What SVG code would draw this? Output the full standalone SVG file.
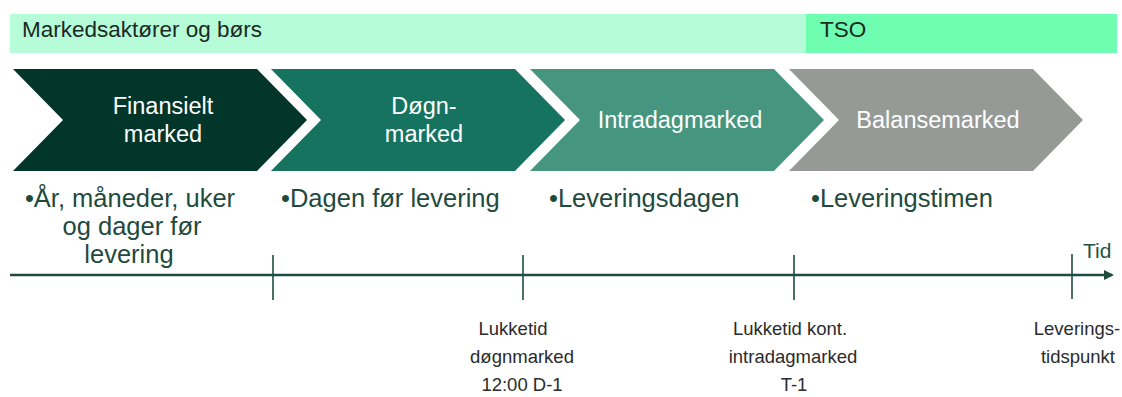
<svg xmlns="http://www.w3.org/2000/svg" width="1122" height="397" viewBox="0 0 1122 397">
<defs>
<style>
.band{font-family:"Liberation Sans",Arial,sans-serif;font-size:22.5px;fill:#1b2a24}
.chev{font-family:"Liberation Sans",Arial,sans-serif;font-size:23.5px;fill:#ffffff;text-anchor:middle}
.bul{font-family:"Liberation Sans",Arial,sans-serif;font-size:25.5px;fill:#1f4a3e}
.lab{font-family:"Liberation Sans",Arial,sans-serif;font-size:18.5px;fill:#2b2b2b;text-anchor:middle}
.tick{stroke:#1e4d40;stroke-width:1.6;fill:none}
</style>
<marker id="arr" markerWidth="10" markerHeight="10" refX="8" refY="5" orient="auto" markerUnits="userSpaceOnUse">
<path d="M0,0 L10,5 L0,10 Z" fill="#1e4d40"/>
</marker>
</defs>
<rect width="1122" height="397" fill="#ffffff"/>

<g id="band-market">
<rect x="10" y="14" width="796" height="39" fill="#b6fcd8"/>
<text class="band" x="22" y="37">Markedsaktører og børs</text>
</g>
<g id="band-tso">
<rect x="806" y="14" width="311" height="39" fill="#6efdb1"/>
<text class="band" x="820" y="37">TSO</text>
</g>

<g id="node-finansielt">
<polygon points="13,69 257,69 307,120 257,171 13,171 63,120" fill="#02362b"/>
<text class="chev" x="163" y="114">Finansielt</text>
<text class="chev" x="163" y="142">marked</text>
</g>
<g id="node-dogn">
<polygon points="271,69 515,69 565,120 515,171 271,171 321,120" fill="#167360"/>
<text class="chev" x="424" y="114">Døgn-</text>
<text class="chev" x="424" y="142">marked</text>
</g>
<g id="node-intradag">
<polygon points="530,69 774,69 824,120 774,171 530,171 580,120" fill="#46967f"/>
<text class="chev" x="680" y="128">Intradagmarked</text>
</g>
<g id="node-balanse">
<polygon points="789,69 1033,69 1083,120 1033,171 789,171 839,120" fill="#959a97"/>
<text class="chev" x="938" y="128">Balansemarked</text>
</g>

<g id="bullets">
<text class="bul" x="130" y="207" text-anchor="middle">•År, måneder, uker</text>
<text class="bul" x="132" y="235" text-anchor="middle">og dager før</text>
<text class="bul" x="129" y="263" text-anchor="middle">levering</text>
<text class="bul" x="281" y="207">•Dagen før levering</text>
<text class="bul" x="549" y="207">•Leveringsdagen</text>
<text class="bul" x="811" y="207">•Leveringstimen</text>
</g>

<g id="connectors">
<line x1="10" y1="275" x2="1112" y2="275" stroke="#1e4d40" stroke-width="2.5" marker-end="url(#arr)"/>
<line class="tick" x1="273" y1="255" x2="273" y2="300"/>
<line class="tick" x1="523" y1="255" x2="523" y2="300"/>
<line class="tick" x1="794" y1="255" x2="794" y2="300"/>
<line class="tick" x1="1072" y1="254" x2="1072" y2="299"/>
</g>

<g id="label-tid">
<text x="1083" y="258" style="font-family:'Liberation Sans',Arial,sans-serif;font-size:21px;fill:#1e5446">Tid</text>
</g>
<g id="label-dogn">
<text class="lab" x="513" y="335">Lukketid</text>
<text class="lab" x="522" y="363">døgnmarked</text>
<text class="lab" x="522" y="391">12:00 D-1</text>
</g>
<g id="label-intradag">
<text class="lab" x="790" y="335">Lukketid kont.</text>
<text class="lab" x="793" y="363">intradagmarked</text>
<text class="lab" x="794" y="391">T-1</text>
</g>
<g id="label-levering">
<text class="lab" x="1077" y="335">Leverings-</text>
<text class="lab" x="1078" y="363">tidspunkt</text>
</g>
</svg>
